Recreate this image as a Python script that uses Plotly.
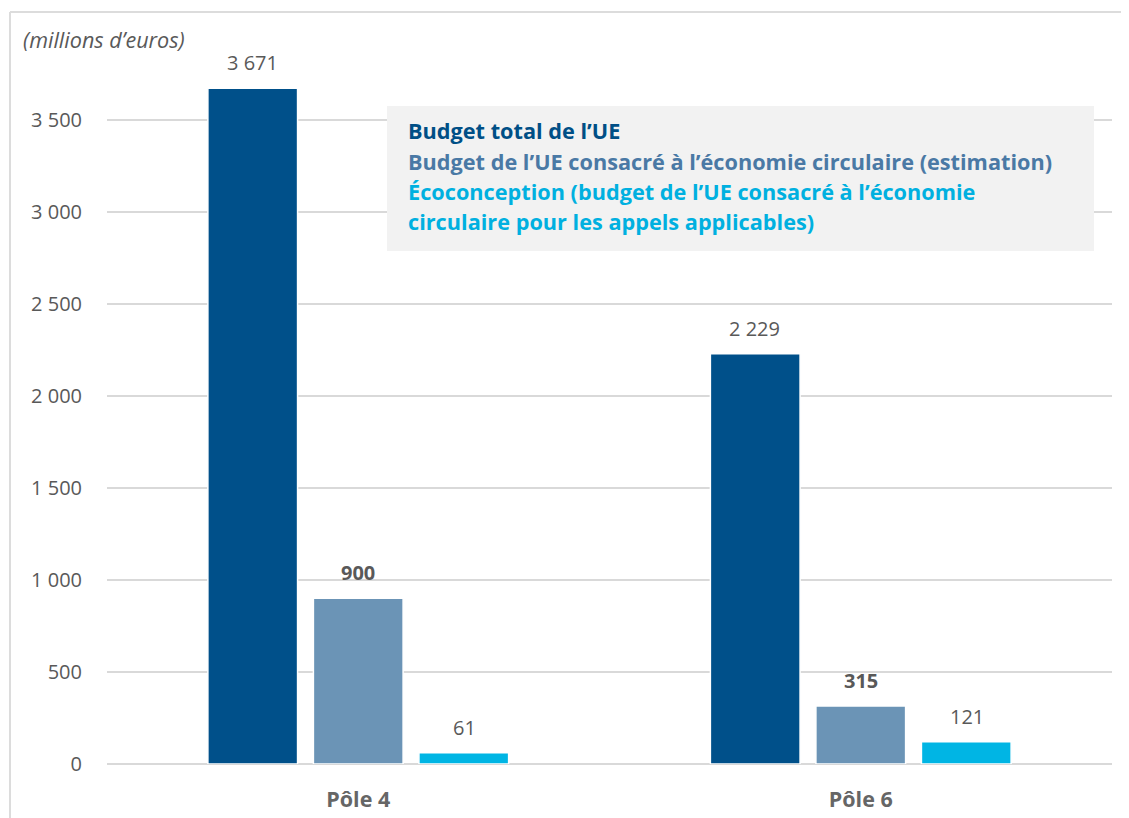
import plotly.graph_objects as go

categories = ["Pôle 4", "Pôle 6"]
series_names = [
    "Budget total de l’UE",
    "Budget de l’UE consacré à l’économie circulaire (estimation)",
    "Écoconception (budget de l’UE consacré à l’économie circulaire pour les appels applicables)",
]
total_budget = [3671, 2229]
circular_budget = [900, 315]
ecodesign_budget = [61, 121]
tick_values = [0, 500, 1000, 1500, 2000, 2500, 3000, 3500]

bar_colors = ["#00508a", "#6b94b6", "#00b5e4"]
legend_colors = ["#004f86", "#4a79a5", "#00b0e0"]
label_bold = [False, True, False]
series_values = [total_budget, circular_budget, ecodesign_budget]

FONT = "Open Sans"
GRAY = "#595959"

# page is offset by the 8px default body margin; plot area in page pixels:
PL, PR, PT, PB = 107, 1112, 37, 764
PW, PH = PR - PL, PB - PT


def px(x):
    return (x - PL) / PW


def py(y):
    return (PB - y) / PH


def fmt(v):
    return f"{v:,}".replace(",", " ")


fig = go.Figure()
for name, vals, col in zip(series_names, series_values, bar_colors):
    fig.add_trace(go.Bar(
        x=categories, y=vals, name=name,
        marker=dict(color=col, line=dict(color="white", width=1.5)),
        showlegend=False, hoverinfo="skip",
    ))

annotations = []
offsets = [-106, 0, 106]
for vals, off, bold in zip(series_values, offsets, label_bold):
    for cat, v in zip(categories, vals):
        t = fmt(v)
        if bold:
            t = f"<b>{t}</b>"
        annotations.append(dict(
            x=cat, y=v, xref="x", yref="y", xshift=off, yshift=10,
            text=t, showarrow=False, yanchor="bottom",
            font=dict(family=FONT, size=20, color=GRAY),
        ))

legend_lines = [
    ("Budget total de l’UE", legend_colors[0]),
    ("Budget de l’UE consacré à l’économie circulaire (estimation)", legend_colors[1]),
    ("Écoconception (budget de l’UE consacré à l’économie", legend_colors[2]),
    ("circulaire pour les appels applicables)", legend_colors[2]),
]
line_y = [131, 162, 192, 221]
for (txt, col), yy in zip(legend_lines, line_y):
    annotations.append(dict(
        x=px(406), y=py(yy), xref="paper", yref="paper",
        text=f"<b>{txt}</b>", showarrow=False, xanchor="left", yanchor="middle",
        font=dict(family=FONT, size=21.7, color=col),
    ))

annotations.append(dict(
    x=px(21), y=py(40), xref="paper", yref="paper",
    text="<i>(millions d’euros)</i>", showarrow=False, xanchor="left", yanchor="middle",
    font=dict(family=FONT, size=21.6, color=GRAY),
))

shapes = [
    dict(type="rect", xref="paper", yref="paper",
         x0=px(387), x1=px(1094), y0=py(251), y1=py(106),
         fillcolor="#f2f2f2", line=dict(width=0), layer="above"),
    dict(type="line", xref="paper", yref="paper",
         x0=px(10), x1=px(1135), y0=py(12), y1=py(12),
         line=dict(color="#dcdcdc", width=2)),
    dict(type="line", xref="paper", yref="paper",
         x0=px(10), x1=px(10), y0=py(12), y1=py(830),
         line=dict(color="#dcdcdc", width=2)),
]

fig.update_layout(
    width=1121, height=810,
    margin=dict(l=PL - 8, r=1129 - PR, t=PT - 8, b=818 - PB),
    paper_bgcolor="white", plot_bgcolor="white",
    barmode="group", bargap=0.37, bargroupgap=0.15,
    separators=", ",
    font=dict(family=FONT, size=20, color=GRAY),
    annotations=annotations, shapes=shapes,
)
fig.update_yaxes(
    range=[0, 3950], tickvals=tick_values, tickformat=",",
    showgrid=True, gridcolor="#d9d9d9", gridwidth=1.5,
    zeroline=True, zerolinecolor="#d9d9d9", zerolinewidth=1.5,
    ticks="outside", ticklen=20, tickcolor="rgba(0,0,0,0)",
    tickfont=dict(family=FONT, size=20, color=GRAY), showline=False,
    automargin=False,
)
fig.update_xaxes(
    showgrid=False, showline=False,
    ticks="outside", ticklen=16, tickcolor="rgba(0,0,0,0)",
    tickfont=dict(family=FONT, size=21.5, color="#666666"),
    ticktext=[f"<b>{c}</b>" for c in categories], tickvals=categories,
    automargin=False,
)

fig.write_html("out.html")
